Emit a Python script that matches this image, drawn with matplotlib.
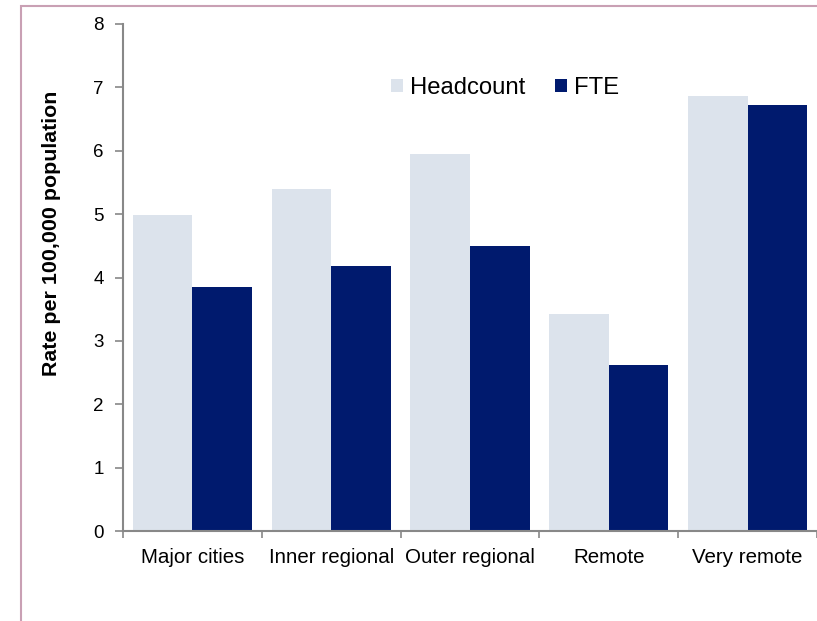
import matplotlib
matplotlib.use("Agg")
import matplotlib.pyplot as plt
import numpy as np
from matplotlib.patches import Rectangle

categories = ["Major cities", "Inner regional", "Outer regional", "Remote", "Very remote"]
headcount = [4.98, 5.39, 5.95, 3.42, 6.86]
fte = [3.85, 4.18, 4.49, 2.62, 6.72]

plt.rcParams['font.family'] = ['Liberation Sans', 'DejaVu Sans']

fig = plt.figure(figsize=(8.17, 6.21), dpi=100)
ax = fig.add_axes([123/817, 1-531/621, 1-123/817, (531-24)/621])

x = np.arange(len(categories))
w = 0.43
ax.bar(x - w/2, headcount, width=w, color="#dce3ec", label="Headcount")
ax.bar(x + w/2, fte, width=w, color="#001a6e", label="FTE")

ax.set_xlim(-0.5, len(categories) - 0.5)
ax.set_ylim(0, 8)
ax.set_yticks(range(0, 9))
ax.tick_params(axis='y', labelsize=13.5, length=6, color="#888888", width=1.2, pad=8)
ax.set_xticks(np.arange(-0.5, len(categories), 1.0))
ax.set_xticklabels([])
ax.tick_params(axis='x', which='major', length=5, color="#888888", width=1.2)
ax.set_xticks(x, minor=True)
ax.set_xticklabels(categories, minor=True)
ax.tick_params(axis='x', which='minor', length=0, labelsize=14.8, pad=12)

for s in ['top', 'right']:
    ax.spines[s].set_visible(False)
for s in ['left', 'bottom']:
    ax.spines[s].set_color("#888888")
    ax.spines[s].set_linewidth(1.5)

fig.text(52/817, 1-233/621, "Rate per 100,000 population", fontsize=15.4, fontweight='bold',
         rotation=90, ha='center', va='center')

leg = ax.legend(loc='upper left', bbox_to_anchor=(391/817, 1-77/621), bbox_transform=fig.transFigure,
                ncol=2, frameon=False, fontsize=17.2, handlelength=0.5, handleheight=0.5,
                handletextpad=0.28, columnspacing=1.28, borderaxespad=0, borderpad=0)

fig.patches.append(Rectangle((21/817, -0.1), 1.2, 1.1 - 6/621, transform=fig.transFigure,
                             fill=False, edgecolor="#c9a0b4", linewidth=1.5))

fig.savefig("out.png", dpi=100)
